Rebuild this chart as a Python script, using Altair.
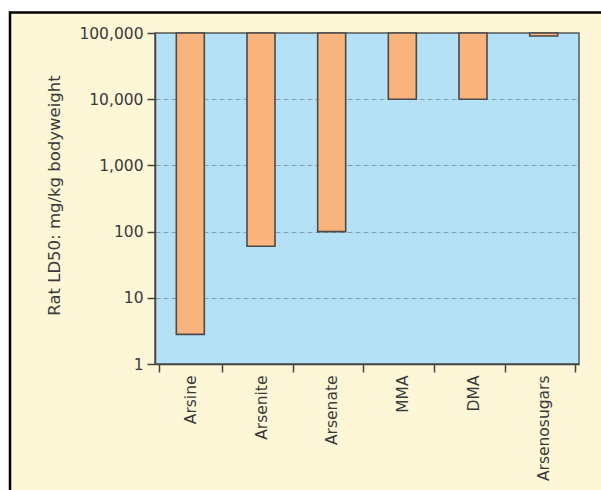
import altair as alt
import pandas as pd

# ---- data ----
categories = ["Arsine", "Arsenite", "Arsenate", "MMA", "DMA", "Arsenosugars"]
ld50 = [2.8, 60, 100, 10000, 10000, 90000]
bar_top = [100000, 100000, 100000, 100000, 100000, 100000]
y_ticks = [1, 10, 100, 1000, 10000, 100000]
y_title = "Rat LD50: mg/kg bodyweight"

W, H = 424, 331
PAD_L, PAD_T = 155, 33

df = pd.DataFrame({"compound": categories, "ld50": ld50, "top": bar_top})
one = pd.DataFrame({"k": [0]})

FONT = "DejaVu Sans"
TXT = "#3a3a3a"
yscale = alt.Scale(type="log", domain=[1, 100000])

grid_test = "datum.value >= 100000 || datum.value <= 1"

bars = alt.Chart(df).mark_bar(
    size=28, fill="#F8B47C", stroke="#4a4a4a", strokeWidth=1.6
).encode(
    x=alt.X("compound:N", sort=categories, title=None,
            axis=alt.Axis(labelAngle=-90, tickBand="extent", tickSize=8,
                          labelPadding=3, domainColor="#444", tickColor="#444",
                          domainWidth=1.5, tickWidth=1.5, grid=False)),
    y=alt.Y("ld50:Q", scale=yscale, title=y_title,
            axis=alt.Axis(values=y_ticks, format=",", tickSize=8, labelPadding=4,
                          domainColor="#444", tickColor="#444", domainWidth=1.5,
                          tickWidth=1.5, grid=True, gridColor="#7f9fb2",
                          gridDash=[5, 3], gridWidth=1,
                          gridOpacity=alt.condition(grid_test, alt.value(0), alt.value(1)),
                          titleAngle=-90, titleX=-101, titleY=162,
                          titleAlign="center", titleBaseline="middle")),
    y2="top:Q",
)

# decorative page frame (white margin strips and black frame line)
white_top = alt.Chart(one).mark_rect(fill="white").encode(
    x=alt.value(-PAD_L), x2=alt.value(W + 30), y=alt.value(-PAD_T), y2=alt.value(-20.5))
white_left = alt.Chart(one).mark_rect(fill="white").encode(
    x=alt.value(-PAD_L), x2=alt.value(-145), y=alt.value(-PAD_T), y2=alt.value(H + 140))
frame = alt.Chart(one).mark_rect(fill=None, stroke="black", strokeWidth=2.5).encode(
    x=alt.value(-145), x2=alt.value(W + 60), y=alt.value(-20.5), y2=alt.value(H + 160))

chart = alt.layer(white_top, white_left, frame, bars).properties(
    width=W, height=H,
    autosize=alt.AutoSizeParams(type="none"),
    padding={"left": PAD_L, "top": PAD_T, "right": 601 - PAD_L - W, "bottom": 490 - PAD_T - H},
    background="#FDF7D7",
).configure_view(
    fill="#B5E1F7", stroke="#555555", strokeWidth=1.5
).configure_axis(
    labelFont=FONT, titleFont=FONT, labelFontSize=15.5, titleFontSize=16.5,
    labelColor=TXT, titleColor=TXT, titleFontWeight="normal",
)

chart.save("out.html", embed_options={"renderer": "svg", "actions": False})
